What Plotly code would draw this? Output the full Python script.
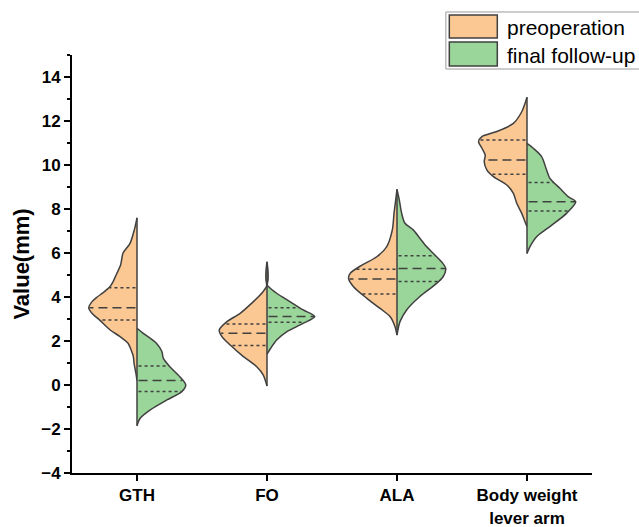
import numpy as np
import plotly.graph_objects as go

categories = ["GTH", "FO", "ALA", "Body weight<br>lever arm"]
series_names = ["preoperation", "final follow-up"]

# Kernel-density profiles (value, relative density)
gth_pre_y = [0.2, 0.5, 1.0, 1.3, 1.6, 1.9, 2.2, 2.5, 2.95, 3.2, 3.5, 3.8, 4.0, 4.2, 4.45, 4.7, 5.0, 5.45, 6.0, 6.44, 7.05, 7.6]
gth_pre_d = [0, 1, 3, 3.7, 6, 9, 17, 27, 37.5, 44, 48.5, 45, 40, 34, 27.5, 24, 21, 16.5, 14, 7, 2.7, 0]
gth_fin_y = [-1.85, -1.52, -1.14, -0.68, -0.3, 0.0, 0.38, 0.83, 1.21, 1.52, 1.89, 2.35, 2.58]
gth_fin_d = [0, 3, 13, 30, 45, 49, 43, 33, 26.5, 25, 19.7, 6.3, 0]

fo_pre_y = [-0.05, 0.45, 0.83, 1.29, 1.82, 2.2, 2.5, 2.88, 3.26, 3.79, 4.24, 4.5, 4.8, 5.2, 5.6]
fo_pre_d = [0, 3.7, 10.3, 23.7, 37, 45.3, 48, 40.3, 27, 13.7, 4, 0.4, 1.1, 1.0, 0]
fo_fin_y = [1.4, 1.67, 2.05, 2.42, 2.8, 3.11, 3.41, 3.79, 4.17, 4.45, 4.55, 4.8, 5.2, 5.6]
fo_fin_d = [0, 3.7, 9.7, 19.7, 36.3, 48, 36.3, 23, 9.7, 2, 0.3, 1.1, 1.0, 0]

ala_pre_y = [2.27, 2.65, 3.11, 3.48, 3.94, 4.47, 4.85, 5.08, 5.45, 5.83, 6.29, 7.05, 7.8, 8.41, 8.89]
ala_pre_d = [0, 2, 7, 17, 30.3, 43.7, 48.7, 47, 35.3, 20.3, 10.3, 4.7, 3, 1.3, 0]
ala_fin_y = [2.27, 2.88, 3.41, 4.02, 4.55, 4.92, 5.3, 5.53, 5.91, 6.29, 6.67, 7.05, 7.35, 7.8, 8.41, 8.89]
ala_fin_d = [0, 3, 9.7, 23, 38, 46.3, 49, 46, 38, 29.7, 23, 16.3, 8, 4.7, 2.3, 0]

bw_pre_y = [7.2, 7.42, 7.8, 8.26, 8.71, 9.09, 9.47, 9.77, 10.15, 10.45, 10.76, 11.06, 11.29, 11.52, 11.89, 12.42, 12.8, 13.08]
bw_pre_d = [0, 2, 5.3, 10.3, 13.7, 20.3, 33.7, 40.3, 43, 42, 45.3, 48.7, 45.3, 30.3, 13.7, 5.3, 2, 0]
bw_fin_y = [5.98, 6.29, 6.74, 7.2, 7.8, 8.33, 8.56, 8.94, 9.39, 9.77, 10.38, 10.76, 10.98]
bw_fin_d = [0, 3, 9.7, 23, 39.7, 49, 41.3, 33, 23, 19.7, 14.7, 6.3, 0]

# Quartiles (Q1, median, Q3)
pre_q1 = [2.95, 1.79, 4.14, 9.58]
pre_med = [3.51, 2.35, 4.82, 10.23]
pre_q3 = [4.42, 2.77, 5.26, 11.14]
fin_q1 = [-0.30, 2.85, 4.70, 7.91]
fin_med = [0.20, 3.11, 5.30, 8.33]
fin_q3 = [0.86, 3.51, 5.88, 9.20]

y_ticks = [-4, -2, 0, 2, 4, 6, 8, 10, 12, 14]

pre_profiles = [(gth_pre_y, gth_pre_d), (fo_pre_y, fo_pre_d), (ala_pre_y, ala_pre_d), (bw_pre_y, bw_pre_d)]
fin_profiles = [(gth_fin_y, gth_fin_d), (fo_fin_y, fo_fin_d), (ala_fin_y, ala_fin_d), (bw_fin_y, bw_fin_d)]

ORANGE = "#FBC793"
GREEN = "#9AD69A"
EDGE = "#404040"
HALF = 0.375
dmax = max(max(d) for _, d in pre_profiles + fin_profiles)

fig = go.Figure()

def half(ci, ys, ds, side, color, name):
    ys = np.array(ys, float)
    w = np.array(ds, float) / dmax * HALF
    xs = ci + side * w
    fig.add_trace(go.Scatter(
        x=xs, y=ys, mode="lines", fill="toself", fillcolor=color,
        line=dict(color=EDGE, width=1.5, shape="spline", smoothing=0.8),
        name=name, showlegend=False, hoverinfo="skip"))

def qline(ci, ys, ds, side, val, dash):
    w = np.interp(val, ys, np.array(ds, float)) / dmax * HALF
    fig.add_trace(go.Scatter(
        x=[ci + side * 0.012, ci + side * max(w - 0.004, 0)], y=[val, val], mode="lines",
        line=dict(color=EDGE, width=1.5, dash=dash), showlegend=False, hoverinfo="skip"))

for i in range(len(categories)):
    py, pd_ = pre_profiles[i]
    fy, fd = fin_profiles[i]
    half(i, py, pd_, -1, ORANGE, series_names[0])
    half(i, fy, fd, +1, GREEN, series_names[1])

for i in range(len(categories)):
    py, pd_ = pre_profiles[i]
    fy, fd = fin_profiles[i]
    qline(i, py, pd_, -1, pre_q1[i], "3px,3px")
    qline(i, py, pd_, -1, pre_q3[i], "3px,3px")
    qline(i, py, pd_, -1, pre_med[i], "9px,5px")
    qline(i, fy, fd, +1, fin_q1[i], "3px,3px")
    qline(i, fy, fd, +1, fin_q3[i], "3px,3px")
    qline(i, fy, fd, +1, fin_med[i], "9px,5px")
    lo = min(py[0], fy[0])
    hi = max(py[-1], fy[-1])
    fig.add_trace(go.Scatter(x=[i, i], y=[lo, hi], mode="lines",
                             line=dict(color=EDGE, width=1.5),
                             showlegend=False, hoverinfo="skip"))

# Manual legend (large swatches like the reference)
fig.add_shape(type="rect", xref="paper", yref="paper", x0=0.719, x1=1.12, y0=0.9665, y1=1.1029,
              line=dict(color="#9a9a9a", width=1), fillcolor="white")
leg_rows = [(1.0957, 1.0407, ORANGE), (1.0311, 0.9737, GREEN)]
for (y1, y0, col), nm in zip(leg_rows, series_names):
    fig.add_shape(type="rect", xref="paper", yref="paper", x0=0.7256, x1=0.8179, y0=y0, y1=y1,
                  line=dict(color=EDGE, width=1.5), fillcolor=col)
    fig.add_annotation(xref="paper", yref="paper", x=0.833, y=(y0 + y1) / 2 - 0.003,
                       text=nm, showarrow=False, xanchor="left", yanchor="middle",
                       font=dict(family="Liberation Sans, Arial", size=21, color="black"))

fig.update_layout(
    width=639, height=527,
    margin=dict(l=72, r=47, t=55, b=54, autoexpand=False),
    plot_bgcolor="white", paper_bgcolor="white",
    showlegend=False,
    font=dict(family="Liberation Sans, Arial", color="black"),
)
fig.update_xaxes(
    range=[-0.5, 3.5], tickvals=list(range(len(categories))), ticktext=categories,
    showline=True, linecolor="black", linewidth=2, ticks="outside", ticklen=6,
    tickwidth=2, tickcolor="black", showgrid=False, zeroline=False, automargin=False,
    tickfont=dict(family="Liberation Sans, Arial", size=17, weight="bold", color="black"),
)
fig.update_yaxes(
    range=[-4, 15], tickvals=y_ticks, showline=True, linecolor="black", linewidth=2,
    ticks="outside", ticklen=6, tickwidth=2, tickcolor="black", automargin=False,
    minor=dict(ticks="outside", ticklen=3, tickwidth=2, tickcolor="black", dtick=1, tick0=-4),
    showgrid=False, zeroline=False,
    tickfont=dict(family="Liberation Sans, Arial", size=17, weight="bold", color="black"),
    title=dict(text="Value(mm)", font=dict(family="Liberation Sans, Arial", size=22, weight="bold", color="black"), standoff=6),
)

fig.write_html("out.html", config={"displayModeBar": False},
               post_script="document.body.style.margin='0px';document.body.style.overflow='hidden';")
